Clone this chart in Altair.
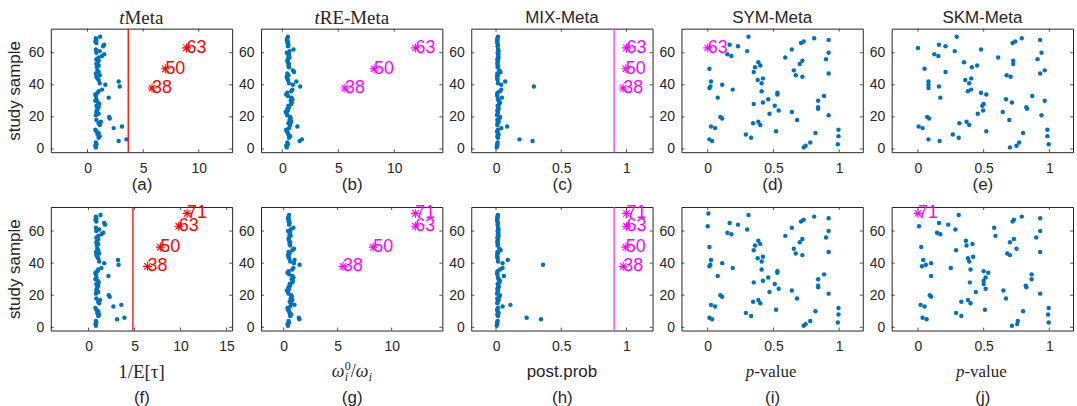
import altair as alt
import pandas as pd

# ---------------- data ----------------
studies70 = list(range(1, 71))
studies71 = list(range(1, 72))

# (a) tMeta  1/E[tau]
tmeta_top = [0.75, 0.70, 0.80, 0.75, 2.80, 3.50, 1.00, 1.10, 0.90, 1.00,
             0.80, 0.70, 2.35, 3.10, 1.10, 1.00, 1.20, 0.80, 2.00, 1.95,
             0.75, 1.00, 0.80, 0.85, 0.90, 1.00, 0.80, 1.05, 0.95, 0.70,
             0.80, 1.90, 0.75, 0.70, 0.90, 1.00, 1.30, 5.80, 2.90, 1.60,
             1.10, 2.80, 1.00, 0.90, 0.80, 1.10, 0.75, 1.00, 0.90, 7.00,
             0.85, 1.00, 0.80, 0.90, 1.00, 0.80, 1.00, 1.30, 1.50, 0.80,
             1.10, 0.75, 8.90, 1.40, 1.50, 0.80, 0.70, 0.80, 0.75, 1.13]
# (f)
tmeta_bot = [0.80, 0.75, 0.85, 0.80, 3.10, 3.90, 1.05, 1.15, 0.95, 1.05,
             0.85, 0.75, 2.70, 3.56, 1.15, 1.05, 1.25, 0.85, 2.30, 2.20,
             0.80, 1.05, 0.85, 0.90, 0.95, 1.05, 0.85, 1.10, 1.00, 0.75,
             0.85, 2.16, 0.80, 0.75, 0.95, 1.05, 1.40, 6.40, 3.26, 1.70,
             1.15, 3.20, 1.05, 0.95, 0.85, 1.15, 0.80, 1.05, 0.95, 7.80,
             0.90, 1.05, 0.85, 0.95, 1.05, 0.85, 1.05, 1.40, 1.60, 0.85,
             1.15, 0.80, 9.80, 1.80, 1.70, 0.85, 0.75, 0.85, 0.80, 1.30, 10.70]
# (b) tRE-Meta  omega0/omega
tre_top = [0.40, 0.35, 0.50, 0.45, 1.55, 1.75, 0.60, 0.70, 0.55, 0.50,
           0.40, 0.35, 0.60, 1.35, 0.70, 0.55, 0.80, 0.65, 0.75, 0.70,
           0.45, 0.40, 0.30, 0.50, 0.45, 0.60, 0.55, 0.80, 0.85, 0.75,
           0.90, 0.80, 0.50, 0.35, 0.45, 0.80, 0.90, 5.60, 1.60, 0.95,
           0.60, 1.25, 0.50, 0.45, 0.40, 0.55, 0.45, 1.05, 0.95, 8.20,
           0.60, 0.55, 0.60, 0.50, 0.45, 0.50, 0.65, 0.55, 0.60, 0.40,
           0.65, 1.00, 11.90, 0.50, 0.55, 0.45, 0.50, 0.40, 0.45, 0.50]
# (g)
tre_bot = [0.40, 0.35, 0.50, 0.45, 1.45, 1.40, 0.60, 0.70, 0.55, 0.50,
           0.40, 0.35, 0.60, 1.00, 0.70, 0.55, 0.80, 0.65, 0.75, 0.70,
           0.45, 0.40, 0.30, 0.50, 0.45, 0.60, 0.55, 0.80, 0.85, 0.75,
           0.90, 0.80, 0.50, 0.35, 0.45, 0.80, 0.90, 5.50, 1.47, 0.95,
           0.60, 1.00, 0.50, 0.45, 0.40, 0.55, 0.45, 0.80, 0.95, 8.30,
           0.60, 0.55, 0.60, 0.50, 0.45, 0.50, 0.65, 0.55, 0.60, 0.40,
           0.65, 0.90, 12.20, 0.50, 0.55, 0.45, 0.50, 0.40, 0.45, 0.50, 12.20]
# (c) MIX-Meta  post.prob
mix_top = [0.005, 0.010, 0.008, 0.012, 0.280, 0.180, 0.015, 0.010, 0.020, 0.012,
           0.008, 0.015, 0.040, 0.085, 0.010, 0.012, 0.020, 0.010, 0.025, 0.030,
           0.008, 0.012, 0.015, 0.010, 0.020, 0.018, 0.012, 0.025, 0.030, 0.020,
           0.015, 0.045, 0.010, 0.008, 0.012, 0.030, 0.040, 0.975, 0.290, 0.040,
           0.015, 0.070, 0.012, 0.010, 0.008, 0.015, 0.010, 0.035, 0.025, 0.995,
           0.012, 0.015, 0.010, 0.012, 0.015, 0.010, 0.020, 0.015, 0.018, 0.012,
           0.020, 0.015, 1.000, 0.012, 0.015, 0.010, 0.008, 0.012, 0.010, 0.015]
# (h)
mix_bot = [0.005, 0.010, 0.008, 0.012, 0.345, 0.235, 0.015, 0.010, 0.020, 0.012,
           0.008, 0.015, 0.050, 0.110, 0.010, 0.012, 0.020, 0.010, 0.025, 0.030,
           0.008, 0.012, 0.015, 0.010, 0.020, 0.018, 0.012, 0.025, 0.030, 0.020,
           0.015, 0.060, 0.010, 0.008, 0.012, 0.030, 0.050, 0.975, 0.360, 0.050,
           0.015, 0.090, 0.012, 0.010, 0.008, 0.015, 0.010, 0.035, 0.025, 0.995,
           0.012, 0.015, 0.010, 0.012, 0.015, 0.010, 0.020, 0.015, 0.018, 0.012,
           0.020, 0.015, 1.000, 0.012, 0.015, 0.010, 0.008, 0.012, 0.010, 0.015, 1.000]
# (d) SYM-Meta p-value
sym_top = [0.73, 0.745, 0.99, 0.78, 0.033, 0.013, 0.33, 0.995, 0.29, 0.82,
           0.52, 0.995, 0.056, 0.025, 0.40, 0.345, 0.385, 0.68, 0.11, 0.096,
           0.92, 0.47, 0.64, 0.54, 0.84, 0.84, 0.51, 0.35, 0.42, 0.84,
           0.46, 0.076, 0.885, 0.53, 0.53, 0.41, 0.19, 0.013, 0.02, 0.11,
           0.41, 0.025, 0.38, 0.42, 0.72, 0.67, 0.92, 0.35, 0.655, 0.013,
           0.36, 0.40, 0.70, 0.385, 0.72, 0.90, 0.59, 0.18, 0.15, 0.92,
           0.30, 0.64, 0.0, 0.23, 0.167, 0.71, 0.73, 0.92, 0.81, 0.31]
# (i)
sym_bot = sym_top + [0.005]
# (e) SKM-Meta p-value
skm_top = [0.70, 0.75, 0.995, 0.77, 0.165, 0.08, 0.31, 0.985, 0.265, 0.80,
           0.52, 0.985, 0.035, 0.005, 0.39, 0.315, 0.37, 0.695, 0.085, 0.07,
           0.94, 0.455, 0.645, 0.496, 0.83, 0.825, 0.49, 0.50, 0.715, 0.965,
           0.67, 0.17, 0.87, 0.52, 0.48, 0.38, 0.405, 0.08, 0.16, 0.08,
           0.39, 0.08, 0.36, 0.405, 0.705, 0.675, 0.93, 0.21, 0.965, 0.05,
           0.41, 0.45, 0.725, 0.35, 0.725, 0.91, 0.61, 0.155, 0.125, 0.94,
           0.28, 0.48, 0.0, 0.21, 0.16, 0.72, 0.74, 0.93, 0.79, 0.295]
# (j)
skm_bot = [0.715, 0.755, 0.995, 0.76, 0.066, 0.035, 0.33, 0.99, 0.29, 0.80,
           0.51, 0.995, 0.05, 0.02, 0.40, 0.33, 0.38, 0.67, 0.10, 0.09,
           0.93, 0.44, 0.65, 0.515, 0.825, 0.82, 0.50, 0.395, 0.50, 0.865,
           0.515, 0.10, 0.865, 0.535, 0.50, 0.40, 0.25, 0.03, 0.06, 0.10,
           0.39, 0.04, 0.38, 0.42, 0.70, 0.68, 0.93, 0.29, 0.75, 0.025,
           0.37, 0.415, 0.70, 0.365, 0.73, 0.90, 0.59, 0.17, 0.145, 0.93,
           0.285, 0.58, 0.008, 0.23, 0.16, 0.72, 0.73, 0.93, 0.79, 0.31, 0.0]

flag_top = [38, 50, 63]
flag_bot = [38, 50, 63, 71]
flag_sym_top = [63]
flag_skm_bot = [71]

thr_tmeta_top = [3.66]
thr_tmeta_bot = [4.82]
thr_mix = [0.905]

y_ticks = [0, 20, 40, 60]

# ---------------- styling ----------------
BLUE = "#0072BD"
RED = "#FF0000"
MAG = "#FF00FF"
INK = "#262626"
SANS = "Liberation Sans"
SERIF = "Liberation Serif"
W, H = 182, 124
ASTER = "M-1,0L1,0M0,-1L0,1M-0.72,-0.72L0.72,0.72M-0.72,0.72L0.72,-0.72"


def txt(s, x, y, size, font=SANS, style="normal", align="center", color=INK):
    return alt.Chart(alt.Data(values=[{"t": s}])).mark_text(
        text=s, align=align, baseline="middle", font=font, fontSize=size,
        fontStyle=style, color=color).encode(x=alt.value(x), y=alt.value(y))


def panel(ids, vals, flags, fcolor, xdom, xticks, letter, texts,
          vline=None, vcolor=None, first=False, bottom=False):
    df = pd.DataFrame({"study": ids, "value": vals})
    df["lab"] = df["study"].astype(str)
    blue = df[~df["study"].isin(flags)]
    flag = df[df["study"].isin(flags)]
    xs = alt.Scale(domain=xdom, nice=False, zero=False)
    ys = alt.Scale(domain=[-2, 75], nice=False, zero=False)
    xaxis = alt.Axis(values=xticks, format="~f", title=letter, ticks=False,
                     tickSize=0, labelPadding=9, titlePadding=36 if bottom else 1,
                     grid=False, domain=False)
    ykw = dict(values=y_ticks, ticks=False, tickSize=0, labelPadding=7,
               titlePadding=5, grid=False, domain=False)
    ykw["title"] = "study sample" if first else None
    yaxis = alt.Axis(**ykw)

    X = lambda: alt.X("value:Q", scale=xs)
    Y = lambda: alt.Y("study:Q", scale=ys)

    layers = []
    layers.append(alt.Chart(blue).mark_circle(size=20, color=BLUE, opacity=1).encode(
        x=alt.X("value:Q", scale=xs, axis=xaxis),
        y=alt.Y("study:Q", scale=ys, axis=yaxis)))
    if vline is not None:
        layers.append(alt.Chart(pd.DataFrame({"value": vline})).mark_rule(
            color=vcolor, strokeWidth=1.3).encode(x=X()))
    if len(flag):
        layers.append(alt.Chart(flag).mark_point(
            shape=ASTER, size=81, filled=False, strokeWidth=1.1, color=fcolor,
            opacity=1).encode(x=X(), y=Y()))
        layers.append(alt.Chart(flag).mark_text(
            align="left", baseline="middle", dx=0, font=SANS, fontSize=18,
            color=fcolor).encode(x=X(), y=Y(), text="lab:N"))
    # inward ticks (box style)
    xt = pd.DataFrame({"value": xticks})
    yt = pd.DataFrame({"study": y_ticks})
    tk = dict(color=INK, strokeWidth=0.8)
    layers.append(alt.Chart(xt).mark_rule(**tk).encode(x=X(), y=alt.value(H), y2=alt.value(H - 3)))
    layers.append(alt.Chart(xt).mark_rule(**tk).encode(x=X(), y=alt.value(0), y2=alt.value(3)))
    layers.append(alt.Chart(yt).mark_rule(**tk).encode(y=Y(), x=alt.value(0), x2=alt.value(3)))
    layers.append(alt.Chart(yt).mark_rule(**tk).encode(y=Y(), x=alt.value(W - 3), x2=alt.value(W)))
    layers.extend(texts)
    return alt.layer(*layers).properties(width=W, height=H)


TY = -11
BY = H + 42
ten = [0, 5, 10]
unit = [0, 0.5, 1]

pa = panel(studies70, tmeta_top, flag_top, RED, [-3.3, 13.0], ten, "(a)",
           [txt("t", 74, TY, 19, SERIF, "italic", "right"),
            txt("Meta", 74, TY, 19, SERIF, align="left")],
           vline=thr_tmeta_top, vcolor=RED, first=True)
pb = panel(studies70, tre_top, flag_top, MAG, [-1.9, 14.3], ten, "(b)",
           [txt("t", 59, TY, 19, SERIF, "italic", "right"),
            txt("RE-Meta", 59, TY, 19, SERIF, align="left")])
pc = panel(studies70, mix_top, flag_top, MAG, [-0.19, 1.2], unit, "(c)",
           [txt("MIX-Meta", W / 2, TY, 17)], vline=thr_mix, vcolor="#FF33FF")
pd_ = panel(studies70, sym_top, flag_sym_top, MAG, [-0.2, 1.18], unit, "(d)",
            [txt("SYM-Meta", W / 2, TY, 17)])
pe = panel(studies70, skm_top, [], MAG, [-0.2, 1.18], unit, "(e)",
           [txt("SKM-Meta", W / 2, TY, 17)])

pf = panel(studies71, tmeta_bot, flag_bot, RED, [-4.1, 15.6], [0, 5, 10, 15], "(f)",
           [txt("1/E[τ]", W / 2, BY, 19, SERIF)],
           vline=thr_tmeta_bot, vcolor=RED, first=True, bottom=True)
pg = panel(studies71, tre_bot, flag_bot, MAG, [-2.1, 14.7], ten, "(g)",
           [txt("ω", 71, BY, 18, SERIF, "italic", "left"),
            txt("0", 84, BY - 6, 12, SERIF, align="left"),
            txt("i", 84, BY + 5, 12, SERIF, "italic", "left"),
            txt("/", 90, BY, 18, SERIF, align="left"),
            txt("ω", 95, BY, 18, SERIF, "italic", "left"),
            txt("i", 108, BY + 5, 12, SERIF, "italic", "left")], bottom=True)
ph = panel(studies71, mix_bot, flag_bot, MAG, [-0.19, 1.2], unit, "(h)",
           [txt("post.prob", W / 2, BY, 17)], vline=thr_mix, vcolor="#FF33FF", bottom=True)
pi = panel(studies71, sym_bot, [], MAG, [-0.2, 1.18], unit, "(i)",
           [txt("p", 73, BY, 17, SERIF, "italic", "right"),
            txt("-value", 73, BY, 17, SERIF, align="left")], bottom=True)
pj = panel(studies71, skm_bot, flag_skm_bot, MAG, [-0.2, 1.18], unit, "(j)",
           [txt("p", 73, BY, 17, SERIF, "italic", "right"),
            txt("-value", 73, BY, 17, SERIF, align="left")], bottom=True)

chart = alt.concat(pa, pb, pc, pd_, pe, pf, pg, ph, pi, pj, columns=5,
                   spacing={"row": 55, "column": 29}, bounds="flush").configure_view(
    stroke=INK, strokeWidth=1
).configure_axis(
    labelFont=SANS, labelFontSize=14, labelColor=INK,
    titleFont=SANS, titleFontSize=17, titleFontWeight="normal", titleColor=INK
).properties(
    padding={"left": 4, "top": 7, "right": 3, "bottom": 0},
    background="white"
)

chart.save("out.html", embed_options={"renderer": "svg", "actions": False})
